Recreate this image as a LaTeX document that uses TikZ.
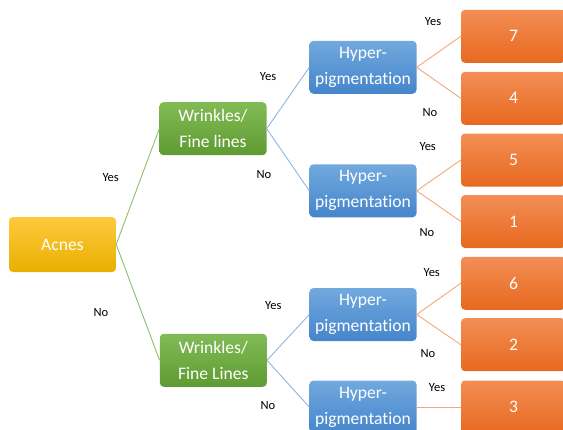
\documentclass[tikz,border=0pt]{standalone}
\usepackage{fontspec}
\setmainfont[Ligatures=NoCommon]{Carlito}
\definecolor{goldT}{HTML}{FFC93E}
\definecolor{goldB}{HTML}{E8B000}
\definecolor{greenT}{HTML}{82BB55}
\definecolor{greenB}{HTML}{5E9B32}
\definecolor{blueT}{HTML}{72A9DE}
\definecolor{blueB}{HTML}{4585CB}
\definecolor{orT}{HTML}{F38E55}
\definecolor{orB}{HTML}{E7691F}
\definecolor{glink}{HTML}{8CC06A}
\definecolor{blink}{HTML}{8DB5E0}
\definecolor{olink}{HTML}{F5A67A}
\tikzset{
  box/.style={rounded corners=4pt, minimum width=107pt, minimum height=53pt, inner sep=0pt,
    text=white, align=center, font=\fontsize{17.6}{26}\selectfont},
  acbox/.style={box, top color=goldT, bottom color=goldB, minimum height=55pt},
  wbox/.style={box, top color=greenT, bottom color=greenB},
  hbox/.style={box, top color=blueT, bottom color=blueB},
  obox/.style={box, top color=orT, bottom color=orB, minimum width=105pt},
  lbl/.style={font=\fontsize{12.5}{14}\selectfont, text=black, inner sep=0pt},
  gl/.style={draw=glink, line width=0.9pt},
  bl/.style={draw=blink, line width=0.9pt},
  ol/.style={draw=olink, line width=0.9pt}
}
\begin{document}
\begin{tikzpicture}[x=1pt,y=-1pt]
\useasboundingbox (0,0) rectangle (563,429);
\clip (0,0) rectangle (563,429);
\node[acbox] (ac) at (62.5,244.5) {Acnes};
\node[wbox] (w1) at (213,128.7) {Wrinkles/\\Fine lines};
\node[wbox] (w2) at (213.3,360.3) {Wrinkles/\\Fine Lines};
\node[hbox] (h1) at (363,67.3) {Hyper-\\pigmentation};
\node[hbox] (h2) at (363,190.8) {Hyper-\\pigmentation};
\node[hbox] (h3) at (363,314.5) {Hyper-\\pigmentation};
\node[hbox] (h4) at (363,407) {Hyper-\\pigmentation};
\node[obox] (o7) at (513.5,36.3) {7};
\node[obox] (o4) at (513.5,98.3) {4};
\node[obox] (o5) at (513.5,160) {5};
\node[obox] (o1) at (513.5,221.5) {1};
\node[obox] (o6) at (513.5,283.3) {6};
\node[obox] (o2) at (513.5,344.7) {2};
\node[obox] (o3) at (513.5,407) {3};
\draw[gl] (ac.east) -- (w1.west);
\draw[gl] (ac.east) -- (w2.west);
\draw[bl] (w1.east) -- (h1.west);
\draw[bl] (w1.east) -- (h2.west);
\draw[bl] (w2.east) -- (h3.west);
\draw[bl] (w2.east) -- (h4.west);
\draw[ol] (h1.east) -- (o7.west);
\draw[ol] (h1.east) -- (o4.west);
\draw[ol] (h2.east) -- (o5.west);
\draw[ol] (h2.east) -- (o1.west);
\draw[ol] (h3.east) -- (o6.west);
\draw[ol] (h3.east) -- (o2.west);
\draw[ol] (h4.east) -- (o3.west);
\node[lbl] (l1) at (110.7,177.3) {Yes};
\node[lbl] (l2) at (101,312.3) {No};
\node[lbl] (l3) at (268,77) {Yes};
\node[lbl] (l4) at (264,175) {No};
\node[lbl] (l5) at (273.3,305.7) {Yes};
\node[lbl] (l6) at (268,406) {No};
\node[lbl] (l7) at (433,22) {Yes};
\node[lbl] (l8) at (430,113) {No};
\node[lbl] (l9) at (427.7,146.7) {Yes};
\node[lbl] (l10) at (427,232.3) {No};
\node[lbl] (l11) at (431.7,272.3) {Yes};
\node[lbl] (l12) at (428,354) {No};
\node[lbl] (l13) at (437,388) {Yes};
\end{tikzpicture}
\end{document}
